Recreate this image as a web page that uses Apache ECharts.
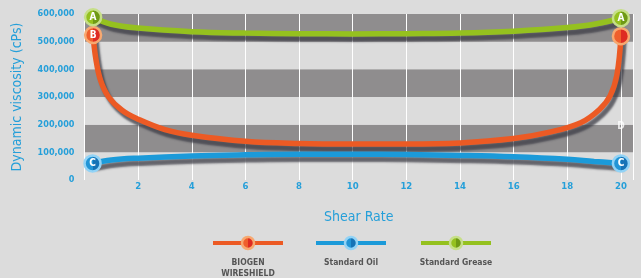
<!DOCTYPE html>
<html>
<head>
<meta charset="utf-8">
<script src="https://cdn.jsdelivr.net/npm/echarts@6/dist/echarts.min.js"></script>
<style>
html,body{margin:0;padding:0;background:#dcdcdc;}
#chart{width:641px;height:278px;}
</style>
</head>
<body>
<div id="chart"></div>
<script>
// 数据
var seriesNames = ['BIOGEN WIRESHIELD', 'Standard Oil', 'Standard Grease'];
var legendLabels = ['BIOGEN\nWIRESHIELD', 'Standard Oil', 'Standard Grease'];
var xTicks = [2, 4, 6, 8, 10, 12, 14, 16, 18, 20];

var biogen = [
    [0.32, 524000], [0.42, 440000], [0.6, 360000], [0.9, 300000],
    [1.4, 252000], [2, 220000], [3, 182000], [4, 162000], [6, 140000],
    [8, 132000], [10, 130000], [12, 130000], [14, 134000],
    [16, 150000], [17.3, 172000], [18.5, 207000],
    [19.2, 255000], [19.6, 305000], [19.85, 380000], [20, 520000]
];
var oil = [
    [0.3, 60000], [1, 72000], [2, 79000], [4, 87000], [6, 91000], [8, 93000],
    [10, 93000], [12, 92000], [14, 89000], [16, 84000], [18, 75000],
    [19, 67000], [20, 60000]
];
var grease = [
    [0.32, 588000], [1, 563000], [2, 549000], [4, 536000], [6, 531000],
    [8, 529000], [10, 528000], [12, 529000], [14, 531000], [16, 538000],
    [18, 551000], [19, 563000], [20, 585000]
];
var startLetters = ['B', 'C', 'A'];
var endLetters = ['', 'C', 'A'];
var extraMark = [[20, 192000, 'D']];

var lineColors = ['#ec5a24', '#1b9ad9', '#95c11f'];
var lightColors = ['#ef5f2c', '#2295d6', '#95c11f'];
var darkColors = ['#de2b22', '#1673b6', '#6f9a14'];
var ringColors = ['#f7a870', '#92d3f6', '#c6df88'];

var blueText = '#259fd9';
var font = 'DejaVu Sans Condensed, Roboto, sans-serif';

function splitFill(i){
    return {type:'linear', x:0, y:0, x2:1, y2:0, colorStops:[
        {offset:0, color:lightColors[i]}, {offset:0.5, color:lightColors[i]},
        {offset:0.5, color:darkColors[i]}, {offset:1, color:darkColors[i]}
    ]};
}
function fmtNum(v){
    return String(v).replace(/\B(?=(\d{3})+(?!\d))/g, ',');
}

var allData = [biogen, oil, grease];
var series = [];
// 曲线
for (var i = 0; i < allData.length; i++) {
    series.push({
        name: seriesNames[i],
        type: 'line',
        data: allData[i],
        smooth: 0.4,
        symbol: 'none',
        z: 3,
        lineStyle: {
            color: lineColors[i], width: 5.5,
            shadowColor: 'rgba(60,60,70,0.75)', shadowBlur: 2,
            shadowOffsetX: 3, shadowOffsetY: 5
        }
    });
}
// 端点标记
for (var i = 0; i < allData.length; i++) {
    var d = allData[i];
    var pts = [
        {value: d[0], label: {formatter: startLetters[i]}},
        {value: d[d.length - 1], label: {formatter: endLetters[i]}}
    ];
    series.push({
        name: seriesNames[i],
        type: 'scatter',
        data: pts,
        symbol: 'circle',
        symbolSize: 16,
        z: 5,
        itemStyle: {color: splitFill(i), borderColor: ringColors[i], borderWidth: 2.5, opacity: 1},
        label: {show: true, position: 'inside', color: '#fff', fontSize: 10, fontWeight: 'bold', fontFamily: font}
    });
}
series.push({
    type: 'scatter',
    data: extraMark.map(function(p){ return {value: [p[0], p[1]], label: {formatter: p[2]}}; }),
    symbolSize: 1,
    itemStyle: {color: 'rgba(0,0,0,0)'},
    z: 5,
    label: {show: true, position: 'inside', color: '#fff', fontSize: 10, fontWeight: 'bold', fontFamily: font}
});

// 图例 (自绘)
var legendX = [248, 351, 456];
var graphics = [];
for (var i = 0; i < 3; i++) {
    var cx = legendX[i];
    graphics.push({type:'line', shape:{x1:cx-35, y1:243, x2:cx+35, y2:243},
        style:{stroke:lineColors[i], lineWidth:4}, silent:true});
    graphics.push({type:'circle', shape:{cx:cx, cy:243, r:6},
        style:{fill:splitFill(i), stroke:ringColors[i], lineWidth:2.5}, silent:true});
    graphics.push({type:'text', x:cx, y:257, silent:true,
        style:{text:legendLabels[i], fill:'#555555', font:'bold 8.5px ' + font,
            textAlign:'center', textVerticalAlign:'top', lineHeight:11}});
}

var chart = echarts.init(document.getElementById('chart'));
var option = {
    backgroundColor: '#dcdcdc',
    animation: false,
    grid: {left: 84.5, top: 14, width: 548.5, height: 166, containLabel: false},
    xAxis: {
        type: 'value', min: 0, max: 20.45, interval: 2,
        name: 'Shear Rate', nameLocation: 'middle', nameGap: 30,
        nameTextStyle: {color: blueText, fontSize: 14, fontFamily: font},
        axisLine: {show: false}, axisTick: {show: false},
        axisLabel: {color: blueText, fontSize: 9.5, fontWeight: 'bold', fontFamily: font, margin: 2,
            formatter: function(v){ return xTicks.indexOf(v) >= 0 ? String(v) : ''; }},
        splitLine: {show: true, lineStyle: {color: '#ffffff', width: 1}}
    },
    yAxis: {
        type: 'value', min: 0, max: 600000, interval: 100000,
        name: 'Dynamic viscosity (cPs)', nameLocation: 'middle', nameGap: 60,
        nameTextStyle: {color: blueText, fontSize: 14, fontFamily: font},
        axisLine: {show: false}, axisTick: {show: false},
        axisLabel: {color: blueText, fontSize: 9, fontWeight: 'bold', fontFamily: font, margin: 10,
            formatter: fmtNum},
        splitLine: {show: false},
        splitArea: {show: true, areaStyle: {color: ['#dcdcdc', '#8f8d8e']}}
    },
    series: series,
    graphic: graphics
};
chart.setOption(option);
</script>
</body>
</html>
